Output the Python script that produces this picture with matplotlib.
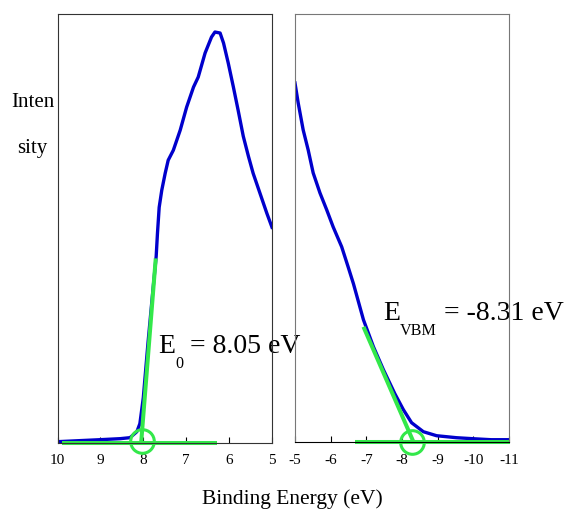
import numpy as np
import matplotlib
matplotlib.use('Agg')
import matplotlib.pyplot as plt
from matplotlib.text import Annotation

plt.rcParams['font.family'] = ['Liberation Serif', 'DejaVu Serif']

# left panel: secondary electron cutoff
e_left = [10.0, 9.5, 9.0, 8.54, 8.31, 8.23, 8.15, 8.08, 8.0, 7.89, 7.77,
          7.70, 7.67, 7.63, 7.57, 7.49, 7.42, 7.30, 7.14, 6.99, 6.83, 6.72,
          6.56, 6.41, 6.33, 6.21, 6.13, 6.02, 5.90, 5.79, 5.67, 5.55, 5.44,
          5.28, 5.12, 5.0]
i_left = [1, 2, 3, 4, 5, 8, 11, 19, 45, 100, 155,
          186, 209, 235, 252, 269, 282, 292, 312, 335, 355, 365,
          389, 405, 410, 409, 399, 379, 355, 332, 306, 286, 269,
          249, 229, 215]

# right panel: valence band edge
e_right = [-5.0, -5.09, -5.23, -5.37, -5.51, -5.70, -5.89, -6.07, -6.31,
           -6.49, -6.64, -6.92, -7.20, -7.48, -7.80, -8.04, -8.27, -8.60,
           -8.97, -9.53, -9.99, -10.5, -11.0]
i_right = [359, 339, 312, 292, 269, 249, 232, 215, 195,
           175, 158, 122, 95, 72, 48, 32, 19, 10,
           6, 4, 3, 2, 2]

# tangent constructions (green)
tan_left_e, tan_left_i = [7.71, 8.05], [184, 0]
base_left_e, base_left_i = [9.9, 6.28], [0, 0]
cut_left = (8.04, 2)
tan_right_e, tan_right_i = [-6.92, -8.32], [115, 0]
base_right_e, base_right_i = [-6.68, -11.03], [0, 0]
cut_right = (-8.29, 0)

left_ticks = [10, 9, 8, 7, 6, 5]
right_ticks = [-5, -6, -7, -8, -9, -10, -11]

blue = '#0000cc'
green = '#33e84a'

fig = plt.figure(figsize=(5.7, 5.09), dpi=100)
ax1 = fig.add_axes([0.1009, 0.1303, 0.3763, 0.8422])
ax2 = fig.add_axes([0.5175, 0.1322, 0.3754, 0.8403])

for ax, xs, ys, ticks, lim in [(ax1, e_left, i_left, left_ticks, (10, 5)),
                               (ax2, e_right, i_right, right_ticks, (-5, -11))]:
    ax.patch.set_alpha(0)
    ax.plot(xs, ys, color=blue, lw=2.4, solid_joinstyle='round')
    ax.set_xlim(*lim)
    ax.set_ylim(0, 428)
    ax.set_xticks(ticks)
    ax.set_xticklabels([str(t) for t in ticks])
    ax.set_yticks([])
    ax.tick_params(axis='x', direction='in', length=4.3, width=0.8,
                   labelsize=11, pad=8.5)

for s in ax1.spines.values():
    s.set_color('#333333')
    s.set_linewidth(0.8)
for s in ax2.spines.values():
    s.set_color('#777777')
    s.set_linewidth(0.8)
ax2.spines['bottom'].set_color('black')

kw = dict(color=green, lw=2.9, clip_on=False, solid_capstyle='butt')
ax1.plot(tan_left_e, tan_left_i, **kw)
ax1.plot(base_left_e, base_left_i, **kw)
ax1.plot(*cut_left, 'o', ms=17, mfc='none', mec=green, mew=2.2, clip_on=False)
ax2.plot(tan_right_e, tan_right_i, **kw)
ax2.plot(base_right_e, base_right_i, **kw)
ax2.plot(*cut_right, 'o', ms=17, mfc='none', mec=green, mew=2.2, clip_on=False)


def sub_label(x, y, main, sub, rest, size=20):
    # text pieces sit under the axes so the spines run across them
    t1 = fig.text(x, y, main, fontsize=size, va='baseline', zorder=-1)
    t2 = Annotation(sub, xy=(1, 0), xycoords=t1, xytext=(0, 2),
                    textcoords='offset points', fontsize=size * 0.58,
                    va='top', ha='left', zorder=-1)
    fig.add_artist(t2)
    t3 = Annotation(rest, xy=(1, 0), xycoords=(t2, t1), fontsize=size,
                    va='bottom', ha='left', zorder=-1)
    fig.add_artist(t3)


sub_label(158 / 570, 1 - 353 / 509, 'E', '0', ' = 8.05 eV')
sub_label(383 / 570, 1 - 320 / 509, 'E', 'VBM', ' = -8.31 eV')

fig.text(32.5 / 570, 1 - 107 / 509, 'Inten', fontsize=15, ha='center',
         va='baseline')
fig.text(32 / 570, 1 - 153 / 509, 'sity', fontsize=15, ha='center',
         va='baseline')
fig.text(292.5 / 570, 1 - 504 / 509, 'Binding Energy (eV)', fontsize=15.5,
         ha='center', va='baseline')

fig.savefig('out.png', dpi=100)
